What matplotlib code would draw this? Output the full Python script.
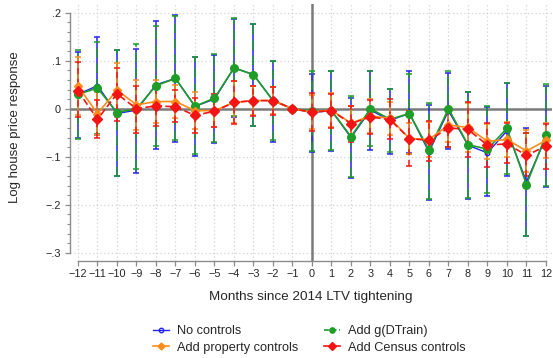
import numpy as np
import matplotlib
matplotlib.use("Agg")
import matplotlib.pyplot as plt
from matplotlib.lines import Line2D
from matplotlib.ticker import FuncFormatter, MultipleLocator

plt.rcParams["font.family"] = ["Liberation Sans", "DejaVu Sans"]

# event-time months around the 2014 LTV tightening
months = list(range(-12, 13))

# No controls
blue_b = [0.030, 0.048, -0.010, -0.003, 0.050, 0.063, 0.005, 0.020, 0.085, 0.071, 0.017, 0,
          -0.008, -0.004, -0.060, -0.003, -0.024, -0.010, -0.090, -0.004, -0.076, -0.092, -0.046, -0.152, -0.060]
blue_lo = [-0.060, -0.055, -0.140, -0.133, -0.083, -0.069, -0.099, -0.072, -0.018, -0.037, -0.069, 0,
           -0.090, -0.087, -0.145, -0.085, -0.094, -0.092, -0.190, -0.083, -0.188, -0.182, -0.140, -0.265, -0.163]
blue_hi = [0.118, 0.150, 0.122, 0.124, 0.183, 0.195, 0.108, 0.112, 0.186, 0.176, 0.099, 0,
           0.072, 0.078, 0.023, 0.078, 0.041, 0.078, 0.008, 0.075, 0.035, 0.003, 0.053, -0.040, 0.047]

# Add g(DTrain)
green_b = [0.030, 0.043, -0.008, 0.000, 0.048, 0.063, 0.005, 0.022, 0.085, 0.071, 0.017, 0,
           -0.005, -0.004, -0.058, 0.000, -0.022, -0.010, -0.086, 0.000, -0.075, -0.084, -0.041, -0.158, -0.055]
green_lo = [-0.062, -0.053, -0.140, -0.126, -0.078, -0.066, -0.094, -0.070, -0.015, -0.035, -0.066, 0,
            -0.087, -0.086, -0.142, -0.078, -0.090, -0.095, -0.187, -0.080, -0.185, -0.175, -0.136, -0.265, -0.160]
green_hi = [0.122, 0.138, 0.122, 0.134, 0.173, 0.193, 0.107, 0.113, 0.188, 0.177, 0.099, 0,
            0.079, 0.079, 0.026, 0.078, 0.042, 0.073, 0.012, 0.078, 0.035, 0.005, 0.053, -0.051, 0.052]

# Add property controls
orange_b = [0.047, -0.010, 0.039, 0.008, 0.015, 0.015, -0.004, -0.004, 0.013, 0.017, 0.017, 0,
            -0.007, -0.003, -0.030, -0.015, -0.020, -0.062, -0.064, -0.034, -0.039, -0.068, -0.064, -0.088, -0.066]
orange_lo = [-0.014, -0.055, -0.018, -0.045, -0.030, -0.020, -0.043, -0.038, -0.030, -0.013, -0.012, 0,
             -0.042, -0.038, -0.066, -0.050, -0.055, -0.095, -0.100, -0.070, -0.090, -0.105, -0.100, -0.132, -0.102]
orange_hi = [0.108, 0.035, 0.096, 0.060, 0.060, 0.050, 0.035, 0.030, 0.058, 0.047, 0.046, 0,
             0.028, 0.032, 0.006, 0.020, 0.015, -0.029, -0.028, 0.002, 0.012, -0.031, -0.028, -0.044, -0.030]

# Add Census controls
red_b = [0.037, -0.022, 0.031, 0.000, 0.006, 0.004, -0.014, -0.005, 0.013, 0.017, 0.017, 0,
         -0.007, -0.004, -0.031, -0.017, -0.023, -0.062, -0.066, -0.040, -0.043, -0.076, -0.073, -0.097, -0.078]
red_lo = [-0.017, -0.060, -0.025, -0.050, -0.035, -0.028, -0.050, -0.039, -0.032, -0.015, -0.013, 0,
          -0.047, -0.040, -0.069, -0.053, -0.064, -0.120, -0.108, -0.080, -0.100, -0.122, -0.114, -0.140, -0.126]
red_hi = [0.097, 0.018, 0.084, 0.047, 0.048, 0.038, 0.022, 0.030, 0.058, 0.048, 0.045, 0,
          0.033, 0.031, 0.006, 0.018, 0.020, -0.005, -0.025, 0.000, 0.013, -0.030, -0.030, -0.050, -0.032]

labels = ["No controls", "Add property controls", "Add g(DTrain)", "Add Census controls"]

BLUE, ORANGE, GREEN, RED = "#2424f0", "#ff8c1a", "#1e9e28", "#f51414"
GRID = "#d4d4d4"
AXC = "#8c8c8c"
TXT = "#262626"

W, H = 553, 358
fig = plt.figure(figsize=(W / 100, H / 100), dpi=100)
ax = fig.add_axes([70 / W, 1 - 261 / H, 482 / W, 257 / H])
ax.set_xlim(-12.41, 12.31)
ax.set_ylim(-0.317, 0.218)

# grid
for y in [0.2, 0.1, -0.1, -0.2, -0.3]:
    ax.axhline(y, color=GRID, lw=0.9, ls=(0, (1, 2)), zorder=0)
for m in months:
    if m != 0:
        ax.axvline(m, color=GRID, lw=0.9, ls=(0, (1, 2)), zorder=0)
ax.axhline(0, color="#7a7a7a", lw=1.8, zorder=1)
ax.axvline(0, color="#7a7a7a", lw=1.8, zorder=1)


def ci(ax, b, lo, hi, color, ls, z):
    b = np.array(b); lo = np.array(lo); hi = np.array(hi)
    eb = ax.errorbar(months, b, yerr=[b - lo, hi - b], fmt="none", ecolor=color,
                     elinewidth=1.1, capsize=2, capthick=1.1, zorder=z)
    eb[2][0].set_linestyle(ls)


ci(ax, blue_b, blue_lo, blue_hi, BLUE, "-", 2)
ci(ax, green_b, green_lo, green_hi, GREEN, (0, (6, 4)), 3)
ci(ax, orange_b, orange_lo, orange_hi, ORANGE, "-", 4)
ci(ax, red_b, red_lo, red_hi, RED, (0, (4, 3)), 5)

ax.plot(months, blue_b, color=BLUE, lw=1.0, marker="o", ms=3.2, mfc="none",
        mec=BLUE, mew=1.0, zorder=6)
ax.plot(months, green_b, color=GREEN, lw=1.2, marker="o", ms=5.5, zorder=7)
ax.plot(months, orange_b, color=ORANGE, lw=1.2, marker="D", ms=4.5, zorder=8)
ax.plot(months, red_b, color=RED, lw=1.2, ls=(0, (4, 2)), marker="D", ms=5.5, zorder=9)

# axes styling
for s in ["top", "right"]:
    ax.spines[s].set_visible(False)
ax.spines["left"].set_bounds(-0.3, 0.2)
ax.spines["bottom"].set_bounds(-12, 12)
for s in ["left", "bottom"]:
    ax.spines[s].set_color(AXC)
    ax.spines[s].set_linewidth(1.0)

ax.set_xticks(months)
ax.set_xticklabels([str(m).replace("-", "\u2212") for m in months])
ax.set_yticks([-0.3, -0.2, -0.1, 0, 0.1, 0.2])
ax.yaxis.set_minor_locator(MultipleLocator(0.02))


def yfmt(v, pos):
    if abs(v) < 1e-9:
        return "0"
    s = f"{v:.1f}".replace("0.", ".")
    return s.replace("-", "\u2212")


ax.yaxis.set_major_formatter(FuncFormatter(yfmt))
ax.tick_params(axis="both", which="major", length=3.6, width=0.9, color=AXC,
               labelsize=7.8, labelcolor=TXT, pad=2)
ax.tick_params(axis="y", which="minor", length=2.2, width=0.8, color=AXC)
ax.tick_params(axis="y", which="major", pad=3)

fig.text(311 / W, 1 - 297 / H, "Months since 2014 LTV tightening", ha="center",
         va="center", fontsize=9.7, color=TXT)
fig.text(15 / W, 1 - 127 / H, "Log house price response", ha="center",
         va="center", rotation=90, fontsize=9.5, color=TXT)

handles = [
    Line2D([], [], color=BLUE, lw=1.0, marker="o", ms=3.2, mfc="none", mec=BLUE),
    Line2D([], [], color=ORANGE, lw=1.2, marker="D", ms=3.5),
    Line2D([], [], color=GREEN, lw=1.2, ls=(0, (3, 1.5)), marker="o", ms=3.8),
    Line2D([], [], color=RED, lw=1.2, marker="D", ms=3.8),
]
fig.legend(handles, labels, ncol=2, loc="center", bbox_to_anchor=(309 / W, 1 - 339.5 / H),
           frameon=False, fontsize=9.2, handlelength=1.3, handletextpad=0.6,
           columnspacing=2.0, labelspacing=0.32, borderpad=0, labelcolor=TXT)

fig.savefig("out.png", dpi=100)
